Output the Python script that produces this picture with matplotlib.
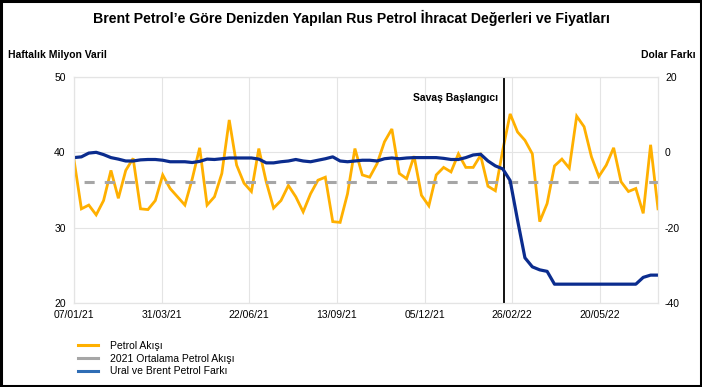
import numpy as np
import pandas as pd
import matplotlib
matplotlib.use("Agg")
import matplotlib.pyplot as plt
from matplotlib.lines import Line2D
from matplotlib.patches import Rectangle
import matplotlib.dates as mdates

plt.rcParams["font.family"] = ["Liberation Sans", "DejaVu Sans"]
plt.rcParams["axes.unicode_minus"] = False

# weekly seaborne Russian oil exports (million barrels / week)
oil_flow = [39.0, 32.5, 33.0, 31.7, 33.6, 37.6, 33.9, 37.6, 39.2, 32.5,
            32.4, 33.6, 37.0, 35.2, 34.1, 33.0, 36.5, 40.6, 33.0, 34.1,
            37.2, 44.3, 38.3, 35.9, 34.8, 40.5, 36.1, 32.6, 33.6, 35.6,
            34.1, 32.1, 34.5, 36.3, 36.7, 30.8, 30.7, 34.5, 40.5, 37.0,
            36.7, 38.5, 41.4, 43.1, 37.2, 36.5, 39.5, 34.3, 32.9, 37.0,
            38.0, 37.4, 39.8, 38.0, 38.0, 39.6, 35.5, 34.9, 40.3, 45.1,
            42.7, 41.6, 39.8, 30.8, 33.2, 38.2, 39.1, 37.9, 44.8, 43.4,
            39.4, 36.8, 38.3, 40.6, 36.1, 34.8, 35.2, 31.9, 41.0, 32.5]
# Urals - Brent spread (USD)
urals_brent = [-1.4, -1.2, -0.2, 0.0, -0.6, -1.4, -1.8, -2.3, -2.3, -2.0,
               -1.9, -1.9, -2.1, -2.5, -2.5, -2.5, -2.7, -2.4, -1.8, -1.9,
               -1.7, -1.5, -1.5, -1.5, -1.5, -1.8, -2.8, -2.8, -2.5, -2.3,
               -1.9, -2.3, -2.5, -2.1, -1.7, -1.2, -2.3, -2.5, -2.3, -2.1,
               -2.1, -2.3, -1.7, -1.5, -1.7, -1.5, -1.4, -1.4, -1.4, -1.4,
               -1.6, -1.9, -1.9, -1.4, -0.7, -0.5, -2.3, -3.6, -4.4, -7.5,
               -18.0, -28.0, -30.4, -31.2, -31.6, -35.0, -35.0, -35.0, -35.0, -35.0,
               -35.0, -35.0, -35.0, -35.0, -35.0, -35.0, -35.0, -33.2, -32.6, -32.6]
avg_2021 = 36.0
dates = pd.date_range("2021-01-07", periods=len(oil_flow), freq="7D")
tick_dates = pd.date_range("2021-01-07", periods=7, freq="83D")
war_date = pd.Timestamp("2022-02-18")

ORANGE = "#FFB000"
NAVY = "#0B2C8E"
GRAY = "#A6A6A6"
GRID = "#E4E4E4"

fig = plt.figure(figsize=(7.02, 3.87), dpi=100)
ax = fig.add_axes([74 / 702, 1 - 303 / 387, (658 - 74) / 702, (303 - 77) / 387])
ax2 = ax.twinx()

ax.plot(dates, oil_flow, color=ORANGE, lw=2.0, solid_joinstyle="miter")
ax.axhline(avg_2021, color=GRAY, lw=2.2, linestyle=(3.3, (3.3, 3.3)))
ax2.plot(dates, urals_brent, color=NAVY, lw=2.3)
ax.axvline(war_date, color="black", lw=1.3, zorder=5)
ax.annotate("Savaş Başlangıcı", (war_date, 47.2), xytext=(-4, 0),
            textcoords="offset points", ha="right", va="center",
            fontsize=7.5, fontweight="bold")

ax.set_xlim(dates[0], dates[-1])
ax.set_ylim(20, 50)
ax.set_yticks([20, 30, 40, 50])
ax2.set_ylim(-40, 20)
ax2.set_yticks([-40, -20, 0, 20])
ax.set_xticks(tick_dates)
ax.xaxis.set_major_formatter(mdates.DateFormatter("%d/%m/%y"))

ax.grid(True, color=GRID, lw=0.8)
ax.set_axisbelow(True)
for a in (ax, ax2):
    for s in a.spines.values():
        s.set_color(GRID)
        s.set_linewidth(0.8)
ax.tick_params(axis="both", length=0, labelsize=7.5)
ax.tick_params(axis="y", pad=6)
ax.tick_params(axis="x", pad=5)
ax2.tick_params(axis="y", length=0, labelsize=7.5, pad=5)

fig.text(0.5, 1 - 18 / 387, "Brent Petrol’e Göre Denizden Yapılan Rus Petrol İhracat Değerleri ve Fiyatları",
         ha="center", va="center", fontsize=10.2, fontweight="bold")
fig.text(8 / 702, 1 - 55 / 387, "Haftalık Milyon Varil", ha="left", va="center",
         fontsize=7.5, fontweight="bold")
fig.text(696 / 702, 1 - 55 / 387, "Dolar Farkı", ha="right", va="center",
         fontsize=7.5, fontweight="bold")

handles = [Line2D([], [], color=ORANGE, lw=2.2),
           Line2D([], [], color=GRAY, lw=2.2),
           Line2D([], [], color="#2F6DB5", lw=2.2)]
labels = ["Petrol Akışı", "2021 Ortalama Petrol Akışı", "Ural ve Brent Petrol Farkı"]
fig.legend(handles, labels, loc="upper left", bbox_to_anchor=(78 / 702, 1 - 341 / 387),
           frameon=False, fontsize=7.5, handlelength=1.9, handletextpad=1.2,
           labelspacing=0.25, borderpad=0, borderaxespad=0)

fig.add_artist(Rectangle((0.002, 0.003), 0.996, 0.994, transform=fig.transFigure,
                         fill=False, ec="black", lw=2.2))

fig.savefig("out.png", dpi=100)
